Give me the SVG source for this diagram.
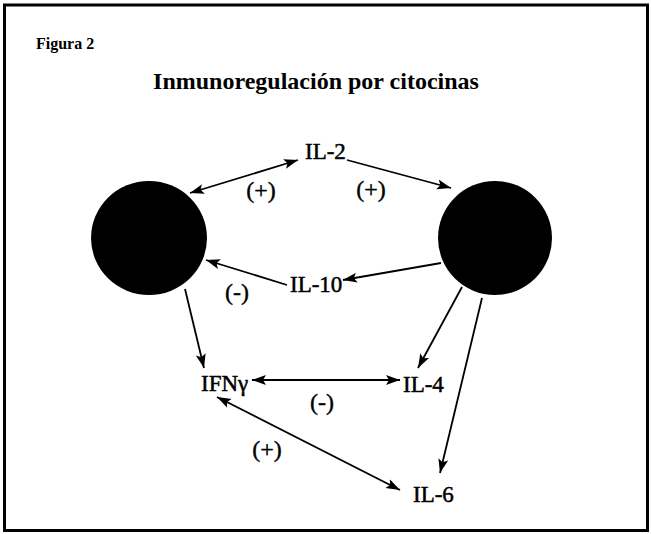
<svg xmlns="http://www.w3.org/2000/svg" width="651" height="534" viewBox="0 0 651 534">
<defs>
<marker id="ah" markerUnits="userSpaceOnUse" markerWidth="16" markerHeight="12" refX="14" refY="5" orient="auto-start-reverse" viewBox="0 0 16 10">
<path d="M0,0 L14,5 L0,10 L3,5 z" fill="#000"/>
</marker>
</defs>
<style>
.lbl{font-family:"Liberation Serif","Times New Roman",serif;font-size:23px;fill:#000;stroke:#000;stroke-width:0.5;}
.sgn{font-family:"Liberation Serif","Times New Roman",serif;font-size:24px;fill:#000;stroke:#000;stroke-width:0.4;text-anchor:middle;}
.edge{stroke:#000;stroke-width:1.8;fill:none;marker-end:url(#ah);}
.both{marker-start:url(#ah);}
.cell{fill:#000;}
</style>
<rect x="0" y="0" width="651" height="534" fill="#fff"/>
<rect x="4.5" y="5" width="643" height="525.5" fill="none" stroke="#000" stroke-width="3"/>
<text x="36" y="49" font-family="Liberation Serif, serif" font-weight="bold" font-size="16">Figura 2</text>
<text x="316" y="89" text-anchor="middle" font-family="Liberation Serif, serif" font-weight="bold" font-size="24">Inmunoregulación por citocinas</text>
<g id="cellLeft"><ellipse class="cell" cx="149" cy="238" rx="58" ry="57"/></g>
<g id="cellRight"><ellipse class="cell" cx="495" cy="238" rx="57" ry="57"/></g>
<g id="il2"><text class="lbl" x="305" y="159">IL-2</text></g>
<g id="il10"><text class="lbl" x="290" y="292">IL-10</text></g>
<g id="ifng"><text class="lbl" x="201" y="391">IFNγ</text></g>
<g id="il4"><text class="lbl" x="403" y="392">IL-4</text></g>
<g id="il6"><text class="lbl" x="413" y="502">IL-6</text></g>
<g id="connectors">
<line class="edge both" x1="190" y1="193" x2="298" y2="160"/>
<line class="edge" x1="347" y1="160" x2="451" y2="188"/>
<line class="edge" x1="441" y1="263" x2="343" y2="280"/>
<line class="edge" x1="287" y1="285" x2="206" y2="260"/>
<line class="edge" x1="185" y1="289" x2="204" y2="368"/>
<line class="edge" x1="462" y1="287" x2="418" y2="368"/>
<line class="edge" x1="482" y1="298" x2="440" y2="473"/>
<line class="edge both" x1="252" y1="380" x2="400" y2="380"/>
<line class="edge both" x1="217" y1="397" x2="400" y2="490"/>
<text class="sgn" x="261" y="198">(+)</text>
<text class="sgn" x="371" y="197">(+)</text>
<text class="sgn" x="237" y="300">(-)</text>
<text class="sgn" x="322" y="410">(-)</text>
<text class="sgn" x="267" y="457">(+)</text>
</g>
</svg>
